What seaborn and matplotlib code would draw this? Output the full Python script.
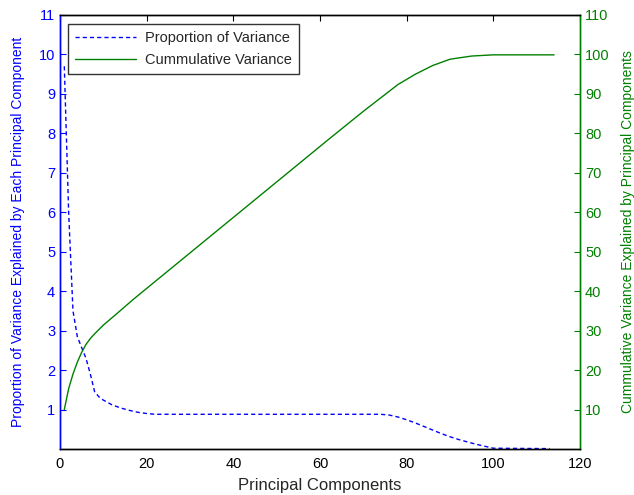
import matplotlib
matplotlib.use("Agg")
import matplotlib.pyplot as plt
import seaborn as sns
import pandas as pd

# Proportion of variance per component (left axis)
prop_x = [1, 2, 3, 4, 5, 6, 7, 8, 9, 10, 12, 14, 16, 18, 20, 22, 74, 76, 78, 80,
          82, 84, 86, 88, 90, 92, 94, 96, 98, 100, 113]
prop_y = [9.7, 6.0, 3.5, 2.85, 2.57, 2.3, 1.9, 1.45, 1.32, 1.24, 1.12, 1.04, 0.98,
          0.93, 0.9, 0.88, 0.88, 0.86, 0.81, 0.74, 0.66, 0.57, 0.48, 0.39, 0.31,
          0.24, 0.18, 0.12, 0.07, 0.02, 0.01]

# Cumulative variance (right axis)
cum_x = [1, 2, 3, 4, 5, 6, 7, 8, 10, 13, 17, 22, 40, 62, 70, 78, 82, 86, 90, 95, 100, 114]
cum_y = [10, 15.3, 19, 22, 24.5, 26.5, 28, 29.2, 31.4, 34.2, 38, 42.5, 58.7, 78.5,
         85.6, 92.4, 95, 97.2, 98.8, 99.6, 99.9, 99.9]

left_ticks = [1, 2, 3, 4, 5, 6, 7, 8, 9, 10, 11]
right_ticks = [10, 20, 30, 40, 50, 60, 70, 80, 90, 100, 110]
x_ticks = [0, 20, 40, 60, 80, 100, 120]

BLUE = "#0000FF"
GREEN = "#008000"

sns.set_style("white")
plt.rcParams["font.family"] = ["Liberation Sans", "DejaVu Sans"]

fig = plt.figure(figsize=(6.34, 4.95), dpi=100)
ax = fig.add_axes([0.0946, 0.0929, 0.8204, 0.8768])
ax2 = ax.twinx()

df_p = pd.DataFrame({"x": prop_x, "y": prop_y})
df_c = pd.DataFrame({"x": cum_x, "y": cum_y})

sns.lineplot(data=df_p, x="x", y="y", ax=ax, color=BLUE, linewidth=1,
             linestyle=(0, (3, 2.2)), label="Proportion of Variance", legend=False)
sns.lineplot(data=df_c, x="x", y="y", ax=ax2, color=GREEN, linewidth=1,
             label="Cummulative Variance", legend=False)

ax.set_xlim(0, 120)
ax.set_ylim(0, 11)
ax2.set_ylim(0, 110)
ax.set_xticks(x_ticks)
ax.set_yticks(left_ticks)
ax2.set_yticks(right_ticks)

ax.set_xlabel("Principal Components", fontsize=12, labelpad=5)
ax.set_ylabel("Proportion of Variance Explained by Each Principal Component",
              color=BLUE, fontsize=10, labelpad=10)
ax2.set_ylabel("Cummulative Variance Explained by Principal Components",
               color=GREEN, fontsize=10, labelpad=8)

for a in (ax, ax2):
    for s in a.spines.values():
        s.set_linewidth(1)
        s.set_color("black")
        s.set_visible(True)
ax.spines["left"].set_color(BLUE)
ax2.spines["left"].set_color(BLUE)
ax2.spines["right"].set_color(GREEN)
ax.spines["right"].set_color(GREEN)

ax.tick_params(axis="x", direction="in", length=4, top=True, labelsize=10.5,
               colors="black", pad=6)
ax.tick_params(axis="y", direction="in", length=4, labelsize=10.5, colors=BLUE,
               left=True, right=False)
ax2.tick_params(axis="y", direction="in", length=4, labelsize=10.5, colors=GREEN,
                right=True, left=False)

h1, l1 = ax.get_legend_handles_labels()
h2, l2 = ax2.get_legend_handles_labels()
leg = ax2.legend(h1 + h2, l1 + l2, loc="upper left", bbox_to_anchor=(0.015, 0.979),
                 fontsize=10.5, frameon=True, fancybox=False, handlelength=4.2,
                 borderpad=0.5, labelspacing=0.5, borderaxespad=0, handletextpad=0.6)
leg.get_frame().set_edgecolor("black")
leg.get_frame().set_linewidth(1)

fig.savefig("out.png", dpi=100)
